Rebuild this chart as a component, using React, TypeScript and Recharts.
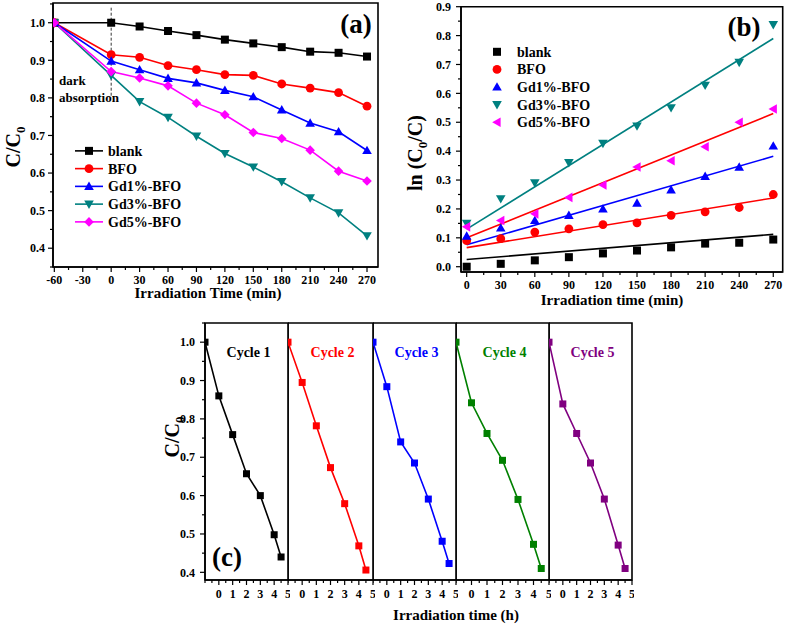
import React from "react";
import {
  ComposedChart,
  Legend,
  Line,
  LineChart,
  ReferenceArea,
  ReferenceLine,
  Scatter,
  XAxis,
  YAxis,
} from "recharts";

const SERIF = '"Liberation Serif", "Times New Roman", serif';

// ---------- (a) C/C0 vs irradiation time ----------
const aTimes = [-60, 0, 30, 60, 90, 120, 150, 180, 210, 240, 270];
const aBlank = [1.0, 1.0, 0.99, 0.978, 0.967, 0.955, 0.945, 0.935, 0.923, 0.92, 0.91];
const aBFO = [1.0, 0.915, 0.908, 0.886, 0.875, 0.862, 0.86, 0.837, 0.826, 0.814, 0.778];
const aGd1 = [1.0, 0.898, 0.875, 0.852, 0.84, 0.82, 0.803, 0.768, 0.733, 0.71, 0.66];
const aGd3 = [1.0, 0.86, 0.79, 0.748, 0.698, 0.652, 0.616, 0.577, 0.534, 0.494, 0.433];
const aGd5 = [1.0, 0.87, 0.853, 0.832, 0.786, 0.755, 0.708, 0.692, 0.661, 0.605, 0.579];
const aTimeTicks = [-60, -30, 0, 30, 60, 90, 120, 150, 180, 210, 240, 270];
const aRatioTicks = [0.4, 0.5, 0.6, 0.7, 0.8, 0.9, 1.0];

// ---------- (b) ln(C0/C) kinetics ----------
const bTimes = [0, 30, 60, 90, 120, 150, 180, 210, 240, 270];
const bBlank = [0.0, 0.01, 0.022, 0.033, 0.046, 0.056, 0.067, 0.08, 0.083, 0.094];
const bBFO = [0.09, 0.097, 0.12, 0.131, 0.146, 0.152, 0.178, 0.19, 0.205, 0.25];
const bGd1 = [0.106, 0.134, 0.16, 0.178, 0.2, 0.22, 0.266, 0.313, 0.345, 0.418];
const bGd3 = [0.15, 0.235, 0.29, 0.36, 0.427, 0.487, 0.55, 0.628, 0.707, 0.838];
const bGd5 = [0.138, 0.16, 0.183, 0.24, 0.283, 0.345, 0.367, 0.415, 0.5, 0.546];
// linear fits, read at both ends
const bFitTimes = [0, 270];
const bFitBlank = [0.025, 0.112];
const bFitBFO = [0.066, 0.238];
const bFitGd1 = [0.076, 0.382];
const bFitGd3 = [0.13, 0.79];
const bFitGd5 = [0.1, 0.53];
const bTimeTicks = [0, 30, 60, 90, 120, 150, 180, 210, 240, 270];
const bLnTicks = [0.0, 0.1, 0.2, 0.3, 0.4, 0.5, 0.6, 0.7, 0.8, 0.9];

// ---------- (c) recycling ----------
const cTimes = [-1, 0, 1, 2, 3, 4, 4.5];
const cCycle1 = [1.0, 0.86, 0.759, 0.657, 0.6, 0.498, 0.44];
const cCycle2 = [1.0, 0.895, 0.782, 0.673, 0.579, 0.469, 0.406];
const cCycle3 = [1.0, 0.884, 0.74, 0.685, 0.591, 0.481, 0.423];
const cCycle4 = [1.0, 0.842, 0.762, 0.692, 0.59, 0.473, 0.41];
const cCycle5 = [1.0, 0.839, 0.762, 0.685, 0.591, 0.471, 0.41];
const cTimeTicks = [0, 1, 2, 3, 4, 5];
const cRatioTicks = [0.4, 0.5, 0.6, 0.7, 0.8, 0.9, 1.0];

type Shape = "square" | "circle" | "up" | "down" | "left" | "diamond";

const aSeries = [
  { key: "blank", name: "blank", color: "#000000", shape: "square" as Shape, values: aBlank },
  { key: "bfo", name: "BFO", color: "#ff0000", shape: "circle" as Shape, values: aBFO },
  { key: "gd1", name: "Gd1%-BFO", color: "#0000ff", shape: "up" as Shape, values: aGd1 },
  { key: "gd3", name: "Gd3%-BFO", color: "#008080", shape: "down" as Shape, values: aGd3 },
  { key: "gd5", name: "Gd5%-BFO", color: "#ff00ff", shape: "diamond" as Shape, values: aGd5 },
];

const bSeries = [
  { key: "blank", name: "blank", color: "#000000", fitColor: "#000000", shape: "square" as Shape, values: bBlank, fit: bFitBlank },
  { key: "bfo", name: "BFO", color: "#ff0000", fitColor: "#ff0000", shape: "circle" as Shape, values: bBFO, fit: bFitBFO },
  { key: "gd1", name: "Gd1%-BFO", color: "#0000ff", fitColor: "#0000ff", shape: "up" as Shape, values: bGd1, fit: bFitGd1 },
  { key: "gd3", name: "Gd3%-BFO", color: "#008080", fitColor: "#008080", shape: "down" as Shape, values: bGd3, fit: bFitGd3 },
  { key: "gd5", name: "Gd5%-BFO", color: "#ff00ff", fitColor: "#ff0000", shape: "left" as Shape, values: bGd5, fit: bFitGd5 },
];

const cPanels = [
  { name: "Cycle 1", color: "#000000", values: cCycle1, left: 205, width: 83 },
  { name: "Cycle 2", color: "#ff0000", values: cCycle2, left: 288, width: 85 },
  { name: "Cycle 3", color: "#0000ff", values: cCycle3, left: 373, width: 83 },
  { name: "Cycle 4", color: "#008000", values: cCycle4, left: 456, width: 93 },
  { name: "Cycle 5", color: "#800080", values: cCycle5, left: 549, width: 83 },
];

const aData = aTimes.map((t, i) => {
  const row: Record<string, number> = { t };
  aSeries.forEach((s) => (row[s.key] = s.values[i]));
  return row;
});

function Marker({ cx, cy, shape, color, size = 8 }: { cx?: number; cy?: number; shape: Shape; color: string; size?: number }) {
  if (cx == null || cy == null || isNaN(cx) || isNaN(cy)) return null;
  const r = size / 2;
  const t = r * 1.2;
  switch (shape) {
    case "square":
      return <rect x={cx - r} y={cy - r} width={size} height={size} fill={color} />;
    case "circle":
      return <circle cx={cx} cy={cy} r={r + 0.4} fill={color} />;
    case "up":
      return <polygon points={`${cx},${cy - t} ${cx + t},${cy + t * 0.75} ${cx - t},${cy + t * 0.75}`} fill={color} />;
    case "down":
      return <polygon points={`${cx},${cy + t} ${cx + t},${cy - t * 0.75} ${cx - t},${cy - t * 0.75}`} fill={color} />;
    case "left":
      return <polygon points={`${cx - t},${cy} ${cx + t * 0.75},${cy - t} ${cx + t * 0.75},${cy + t}`} fill={color} />;
    default:
      return <polygon points={`${cx},${cy - t} ${cx + t},${cy} ${cx},${cy + t} ${cx - t},${cy}`} fill={color} />;
  }
}

// majors plus half steps, kept inside the domain
function withMinor(majors: number[], domain: [number, number], step?: number) {
  const s = step ?? majors[1] - majors[0];
  const out: number[] = [];
  const start = majors[0] - 2 * s;
  const end = majors[majors.length - 1] + 2 * s;
  for (let v = start; v <= end + 1e-9; v += s / 2) {
    const r = Math.round(v * 1000) / 1000;
    if (r >= domain[0] - 1e-9 && r <= domain[1] + 1e-9) out.push(r);
  }
  return out;
}

function axisTick(side: "bottom" | "left", majors: number[], fmt: (v: number) => string, gap = 4, fontSize = 12) {
  return (props: any) => {
    const { x, y, payload } = props;
    const v = payload.value as number;
    const major = majors.some((m) => Math.abs(m - v) < 1e-6);
    const len = major ? 5 : 3;
    if (side === "bottom") {
      return (
        <g>
          <line x1={x} x2={x} y1={y} y2={y + len} stroke="#000" strokeWidth={1.2} />
          {major && (
            <text x={x} y={y + 5 + gap} dy="0.71em" textAnchor="middle" fontFamily={SERIF} fontWeight="bold" fontSize={fontSize} fill="#000">
              {fmt(v)}
            </text>
          )}
        </g>
      );
    }
    return (
      <g>
        <line x1={x - len} x2={x} y1={y} y2={y} stroke="#000" strokeWidth={1.2} />
        {major && (
          <text x={x - 5 - gap} y={y} dy="0.35em" textAnchor="end" fontFamily={SERIF} fontWeight="bold" fontSize={fontSize} fill="#000">
            {fmt(v)}
          </text>
        )}
      </g>
    );
  };
}

const axisLine = { stroke: "#000", strokeWidth: 1.5 };

// plot frame drawn as a reference area over the whole domain
function frame(xDom: [number, number], yDom: [number, number]) {
  return (
    <ReferenceArea
      x1={xDom[0]}
      x2={xDom[1]}
      y1={yDom[0]}
      y2={yDom[1]}
      ifOverflow="visible"
      fill="none"
      fillOpacity={0}
      stroke="#000"
      strokeWidth={1.6}
      strokeOpacity={1}
    />
  );
}

function LegendBox({ items, withLine, rowH }: { items: { key: string; name: string; color: string; shape: Shape }[]; withLine: boolean; rowH: number }) {
  const lineLen = withLine ? 28 : 10;
  const textX = withLine ? 33 : 25;
  return (
    <svg width={130} height={rowH * items.length} style={{ display: "block" }}>
      {items.map((s, i) => {
        const cy = rowH / 2 + i * rowH;
        return (
          <g key={s.key}>
            {withLine && <line x1={0} x2={lineLen} y1={cy} y2={cy} stroke={s.color} strokeWidth={1.6} />}
            <Marker cx={lineLen / 2} cy={cy} shape={s.shape} color={s.color} size={8} />
            <text x={textX} y={cy} dy="0.35em" fontFamily={SERIF} fontWeight="bold" fontSize={14} fill="#000">
              {s.name}
            </text>
          </g>
        );
      })}
    </svg>
  );
}

function PanelA() {
  const xDom: [number, number] = [-61.4, 281.6];
  const yDom: [number, number] = [0.35, 1.0525];
  return (
    <div style={{ position: "absolute", left: 0, top: 0 }}>
      <LineChart width={390} height={310} data={aData} margin={{ top: 3, right: 12, left: 0, bottom: 0 }}>
        <XAxis
          dataKey="t"
          type="number"
          domain={xDom}
          allowDataOverflow
          ticks={withMinor(aTimeTicks, xDom)}
          interval={0}
          tickSize={0}
          tickMargin={0}
          tickLine={false}
          axisLine={axisLine}
          height={43}
          tick={axisTick("bottom", aTimeTicks, (v) => String(v), 3)}
        />
        <YAxis
          type="number"
          domain={yDom}
          allowDataOverflow
          ticks={withMinor(aRatioTicks, yDom)}
          interval={0}
          tickSize={0}
          tickMargin={0}
          tickLine={false}
          axisLine={axisLine}
          width={53}
          tick={axisTick("left", aRatioTicks, (v) => v.toFixed(1), 3)}
        />
        {frame(xDom, yDom)}
        <ReferenceLine
          segment={[
            { x: 0, y: 1.04 },
            { x: 0, y: 0.8 },
          ]}
          stroke="#000"
          strokeWidth={0.8}
          strokeDasharray="3 2"
        />
        {aSeries.map((s) => (
          <Line
            key={s.key}
            dataKey={s.key}
            stroke={s.color}
            strokeWidth={1.6}
            isAnimationActive={false}
            activeDot={false}
            dot={(p: any) => <Marker key={`${s.key}-${p.index}`} cx={p.cx} cy={p.cy} shape={s.shape} color={s.color} size={8} />}
          />
        ))}
        <Legend
          layout="vertical"
          align="center"
          verticalAlign="middle"
          wrapperStyle={{ left: 75, top: 142, width: 130, height: 90 }}
          content={() => <LegendBox items={aSeries} withLine rowH={17.75} />}
        />
      </LineChart>
    </div>
  );
}

function PanelB() {
  const xDom: [number, number] = [-5, 278.3];
  const yDom: [number, number] = [-0.0183, 0.9];
  return (
    <div style={{ position: "absolute", left: 400, top: 0 }}>
      <ComposedChart width={387} height={310} margin={{ top: 6.7, right: 4.3, left: 0, bottom: 0 }}>
        <XAxis
          dataKey="t"
          type="number"
          domain={xDom}
          allowDataOverflow
          ticks={withMinor(bTimeTicks, xDom)}
          interval={0}
          tickSize={0}
          tickMargin={0}
          tickLine={false}
          axisLine={axisLine}
          height={38}
          tick={axisTick("bottom", bTimeTicks, (v) => String(v), 3)}
        />
        <YAxis
          dataKey="v"
          type="number"
          domain={yDom}
          allowDataOverflow
          ticks={withMinor(bLnTicks, yDom)}
          interval={0}
          tickSize={0}
          tickMargin={0}
          tickLine={false}
          axisLine={axisLine}
          width={61}
          tick={axisTick("left", bLnTicks, (v) => v.toFixed(1), 5)}
        />
        {frame(xDom, yDom)}
        {bSeries.map((s) => (
          <Scatter
            key={`fit-${s.key}`}
            data={bFitTimes.map((t, i) => ({ t, v: s.fit[i] }))}
            fill={s.fitColor}
            line={{ stroke: s.fitColor, strokeWidth: 1.6 }}
            shape={() => <g />}
            isAnimationActive={false}
          />
        ))}
        {bSeries.map((s) => (
          <Scatter
            key={`pts-${s.key}`}
            data={bTimes.map((t, i) => ({ t, v: s.values[i] }))}
            fill={s.color}
            shape={(p: any) => <Marker cx={p.cx} cy={p.cy} shape={s.shape} color={s.color} size={8} />}
            isAnimationActive={false}
          />
        ))}
        <Legend
          layout="vertical"
          align="center"
          verticalAlign="middle"
          wrapperStyle={{ left: 92, top: 43.2, width: 130, height: 90 }}
          content={() => <LegendBox items={bSeries} withLine={false} rowH={17.6} />}
        />
      </ComposedChart>
    </div>
  );
}

function CyclePanel({ p, first }: { p: (typeof cPanels)[number]; first: boolean }) {
  const xDom: [number, number] = [-1, 5];
  const yDom: [number, number] = [0.38, 1.05];
  const yW = first ? 55 : 0;
  const data = cTimes.map((t, i) => ({ t, v: p.values[i] }));
  return (
    <div style={{ position: "absolute", left: p.left - yW, top: 321 }}>
      <LineChart width={yW + p.width + 2} height={289} data={data} margin={{ top: 2, right: 2, left: 0, bottom: 0 }}>
        <XAxis
          dataKey="t"
          type="number"
          domain={xDom}
          allowDataOverflow
          ticks={withMinor(cTimeTicks, xDom, 1)}
          interval={0}
          tickSize={0}
          tickMargin={0}
          tickLine={false}
          axisLine={axisLine}
          height={30}
          tick={axisTick("bottom", cTimeTicks, (v) => String(v), 4)}
        />
        <YAxis
          type="number"
          domain={yDom}
          allowDataOverflow
          ticks={first ? withMinor(cRatioTicks, yDom) : []}
          interval={0}
          tickSize={0}
          tickMargin={0}
          tickLine={false}
          axisLine={axisLine}
          width={yW}
          hide={!first}
          tick={first ? axisTick("left", cRatioTicks, (v) => v.toFixed(1), 5) : false}
        />
        {frame(xDom, yDom)}
        <Line
          dataKey="v"
          stroke={p.color}
          strokeWidth={1.6}
          isAnimationActive={false}
          activeDot={false}
          dot={(d: any) => <Marker key={`c-${d.index}`} cx={d.cx} cy={d.cy} shape="square" color={p.color} size={7} />}
        />
      </LineChart>
    </div>
  );
}

const txt = { fontFamily: SERIF, fontWeight: "bold" as const, fill: "#000" };

function Overlay() {
  return (
    <svg width={787} height={627} style={{ position: "absolute", left: 0, top: 0, pointerEvents: "none" }}>
      {/* panel (a) */}
      <text {...txt} fontSize={20} textAnchor="middle" transform="rotate(-90 13 147)" x={13} y={147} dy="0.35em">
        C/C<tspan fontSize={13} dy={5}>0</tspan>
      </text>
      <text {...txt} fontSize={15} textAnchor="middle" x={208} y={293} dy="0.35em">
        Irradiation Time (min)
      </text>
      <text {...txt} fontSize={27} textAnchor="middle" x={356} y={24} dy="0.35em">
        (a)
      </text>
      <text {...txt} fontSize={13} x={59} y={80} dy="0.35em">
        dark
      </text>
      <text {...txt} fontSize={13} x={59} y={97} dy="0.35em">
        absorption
      </text>
      {/* panel (b) */}
      <text {...txt} fontSize={20} textAnchor="middle" transform="rotate(-90 415 153)" x={415} y={153} dy="0.35em">
        ln (C<tspan fontSize={13} dy={5}>0</tspan>
        <tspan dy={-5}>/C)</tspan>
      </text>
      <text {...txt} fontSize={15} textAnchor="middle" x={612} y={300} dy="0.35em">
        Irradiation time (min)
      </text>
      <text {...txt} fontSize={27} textAnchor="middle" x={744} y={27} dy="0.35em">
        (b)
      </text>
      {/* panel (c) */}
      <text {...txt} fontSize={20} textAnchor="middle" transform="rotate(-90 172 437)" x={172} y={437} dy="0.35em">
        C/C<tspan fontSize={13} dy={5}>0</tspan>
      </text>
      <text {...txt} fontSize={15} textAnchor="middle" x={456} y={615} dy="0.35em">
        Irradiation time (h)
      </text>
      <text {...txt} fontSize={27} textAnchor="middle" x={227} y={557} dy="0.35em">
        (c)
      </text>
      {cPanels.map((p) => (
        <text key={p.name} {...txt} fill={p.color} fontSize={14} textAnchor="middle" x={p.left + p.width / 2 + 2} y={352} dy="0.35em">
          {p.name}
        </text>
      ))}
    </svg>
  );
}

export default function App() {
  return (
    <div style={{ position: "absolute", left: 0, top: 0, width: 787, height: 627, background: "#fff", overflow: "hidden" }}>
      <PanelA />
      <PanelB />
      {cPanels.map((p, i) => (
        <CyclePanel key={p.name} p={p} first={i === 0} />
      ))}
      <Overlay />
    </div>
  );
}
